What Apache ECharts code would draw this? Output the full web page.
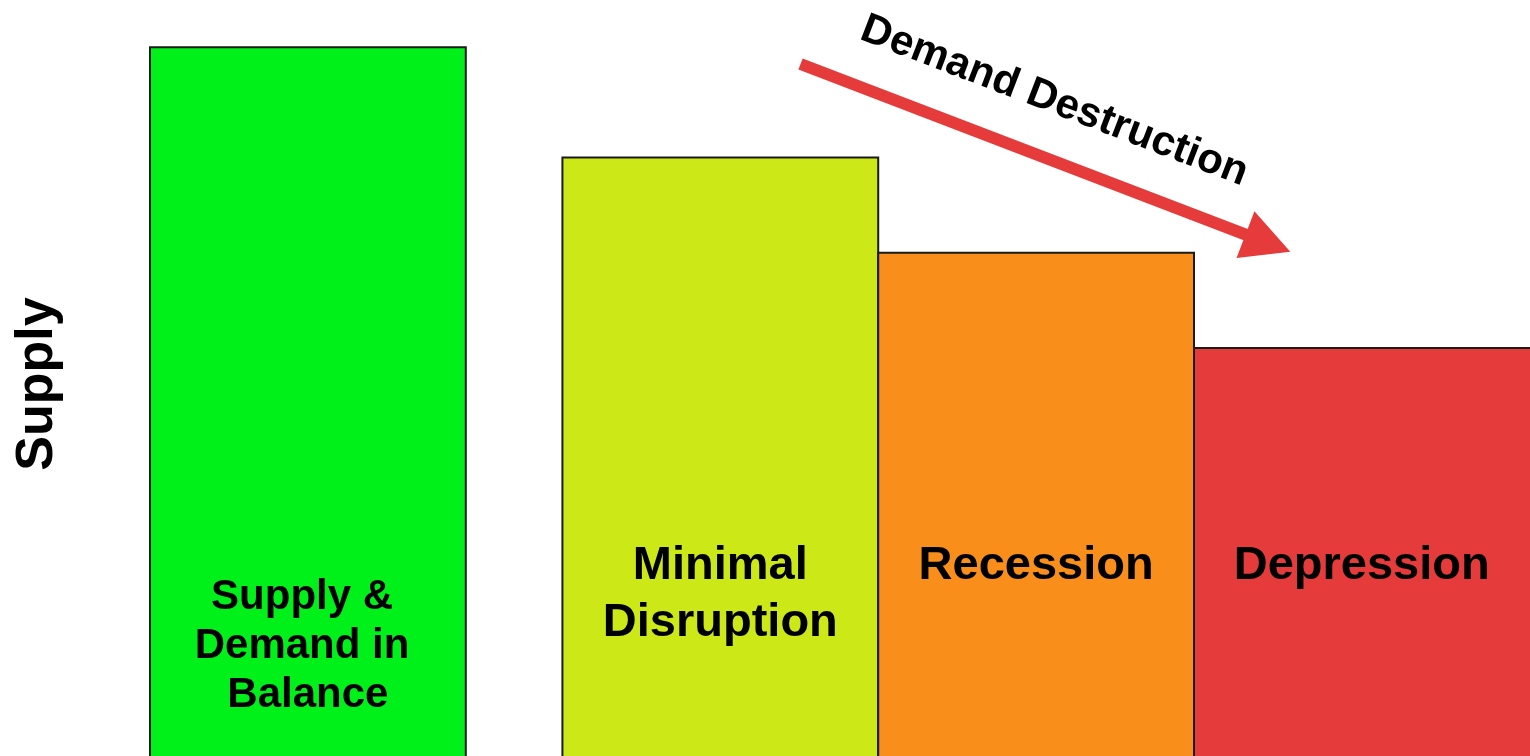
<!DOCTYPE html>
<html>
<head>
<meta charset="utf-8">
<title>Supply and demand destruction</title>
<style>
html, body { margin: 0; padding: 0; background: #fff; }
#chart { width: 1530px; height: 756px; }
</style>
</head>
<body>
<div id="chart"></div>
<script src="https://cdn.jsdelivr.net/npm/echarts@6/dist/echarts.min.js"></script>
<script>
// phases of demand destruction
var phaseNames = ['Supply & \nDemand in \nBalance', 'Minimal\nDisruption', 'Recession', 'Depression'];
var phaseStart = [0, 1.306, 2.306, 3.306];
var phaseEnd = [1, 2.306, 3.306, 4.4];
var supplyLevel = [94.1, 80.3, 68.4, 56.5];
var phaseColors = ['#00f01a', '#cde817', '#f98f1a', '#e63b3b'];

// arrow annotation (from -> to, data coords)
var arrowFrom = [2.06, 92];
var arrowTo = [3.54, 69.6];

var barData = [];
for (var i = 0; i < phaseNames.length; i++) {
    barData.push([phaseStart[i], phaseEnd[i], supplyLevel[i]]);
}

var chart = echarts.init(document.getElementById('chart'));

var option = {
    animation: false,
    grid: { left: 150, right: 0, top: 0, bottom: 0 },
    xAxis: { type: 'value', min: 0, max: 4.37, show: false },
    yAxis: {
        // axis starts above zero so the bars run off the bottom of the picture
        type: 'value', min: 5.5, max: 100,
        name: 'Supply',
        nameLocation: 'middle',
        nameRotate: 90,
        nameGap: 86,
        nameTextStyle: { fontFamily: 'Liberation Sans', fontWeight: 'bold', fontSize: 52, color: '#000', padding: [0, 12, 0, 0] },
        axisLine: { show: false },
        axisTick: { show: false },
        axisLabel: { show: false },
        splitLine: { show: false }
    },
    series: [{
        type: 'custom',
        data: barData,
        renderItem: function (params, api) {
            var idx = params.dataIndex;
            var p0 = api.coord([api.value(0), api.value(2)]);
            var p1 = api.coord([api.value(1), 0]);
            var first = idx === 0;
            return {
                type: 'group',
                children: [{
                    type: 'rect',
                    shape: { x: p0[0], y: p0[1], width: p1[0] - p0[0], height: p1[1] - p0[1] },
                    style: { fill: phaseColors[idx], stroke: '#1a1a1a', lineWidth: 2 }
                }, {
                    type: 'text',
                    x: (p0[0] + p1[0]) / 2 - (idx === 3 ? 5 : 0),
                    y: first ? 573 : 538,
                    style: {
                        text: phaseNames[idx],
                        fontFamily: 'Liberation Sans',
                        fontWeight: 'bold',
                        fontSize: first ? 42 : 47,
                        lineHeight: first ? 49 : 57,
                        fill: '#000',
                        align: 'center',
                        verticalAlign: 'top'
                    }
                }]
            };
        }
    }, {
        type: 'line',
        data: [],
        markLine: {
            silent: true,
            symbol: ['none', 'triangle'],
            symbolSize: [50, 48],
            lineStyle: { color: '#e63b3b', width: 12, type: 'solid' },
            label: {
                show: true,
                position: 'middle',
                formatter: 'Demand Destruction',
                fontFamily: 'Liberation Sans',
                fontWeight: 'bold',
                fontSize: 42,
                color: '#000',
                distance: 35
            },
            data: [[{ coord: arrowFrom }, { coord: arrowTo }]]
        }
    }]
};

chart.setOption(option);
</script>
</body>
</html>
